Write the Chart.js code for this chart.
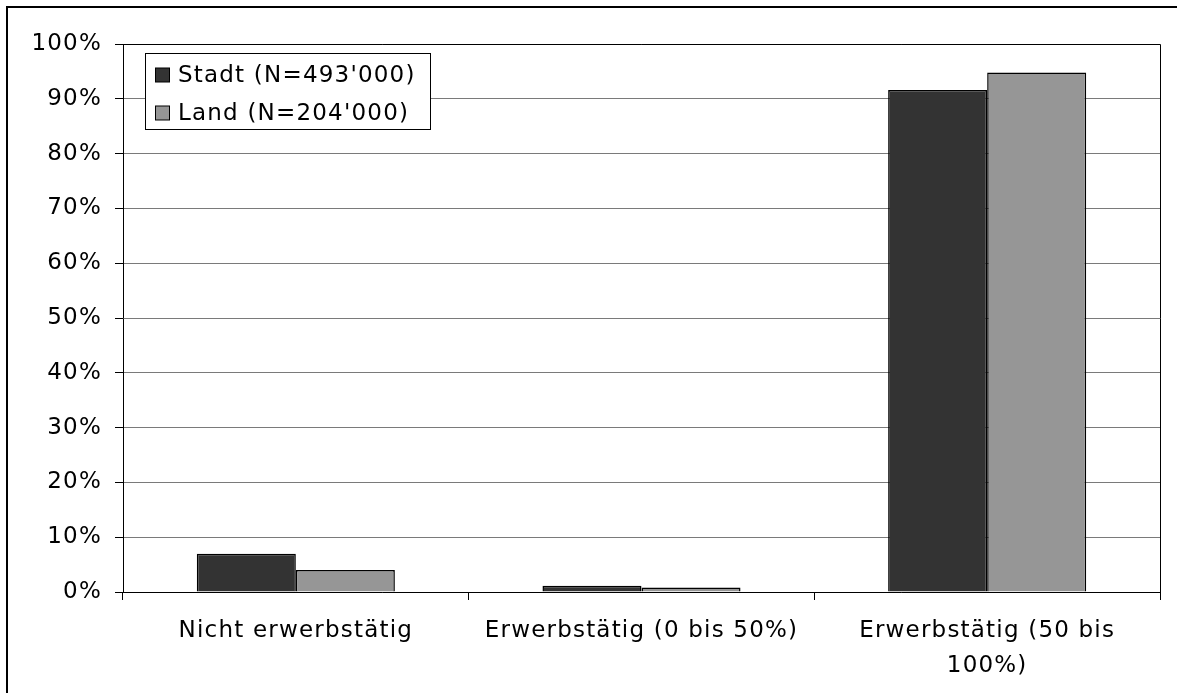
<!DOCTYPE html>
<html>
<head>
<meta charset="utf-8">
<script src="https://cdn.jsdelivr.net/npm/chart.js@4.4.0/dist/chart.umd.min.js"></script>
<style>
  html, body { margin: 0; padding: 0; background: #fff; }
  #wrap { width: 1177px; height: 693px; }
</style>
</head>
<body>
<div id="wrap"><canvas id="chart1" width="1177" height="693"></canvas></div>
<script>
const categories = [
  "Nicht erwerbstätig",
  "Erwerbstätig (0 bis 50%)",
  ["Erwerbstätig (50 bis", "100%)"],
];
const stadtValues = [7.0, 1.15, 91.6];
const landValues = [4.0, 0.8, 94.8];
const seriesLabels = ["Stadt (N=493'000)", "Land (N=204'000)"];
const colors = ["#333333", "#969696"];

const font = { family: "'DejaVu Sans', Verdana, sans-serif", size: 23 };

// frame round the whole picture, border round plot area and the legend box
const framePlugin = {
  id: "frame",
  beforeDraw(chart) {
    const ctx = chart.ctx;
    ctx.letterSpacing = "1.2px";
    ctx.save();
    ctx.fillStyle = "#fff";
    ctx.fillRect(0, 0, chart.width, chart.height);
    ctx.strokeStyle = "#000";
    ctx.lineWidth = 2;
    ctx.strokeRect(7, 7, chart.width + 20, chart.height + 20);
    ctx.restore();
  },
  afterDraw(chart) {
    const ctx = chart.ctx;
    const a = chart.chartArea;
    ctx.save();
    ctx.strokeStyle = "#000";
    ctx.lineWidth = 1;
    ctx.beginPath();
    ctx.moveTo(a.left, a.top + 0.5);
    ctx.lineTo(a.right + 0.5, a.top + 0.5);
    ctx.lineTo(a.right + 0.5, a.bottom);
    ctx.stroke();

    // legend
    const lx = 145.5, ly = 53.5, lw = 285, lh = 76;
    ctx.fillStyle = "#fff";
    ctx.fillRect(lx, ly, lw, lh);
    ctx.strokeRect(lx, ly, lw, lh);
    ctx.font = font.size + "px " + font.family;
    ctx.textBaseline = "middle";
    chart.data.datasets.forEach((ds, i) => {
      const cy = 75 + i * 38;
      ctx.fillStyle = ds.backgroundColor;
      ctx.fillRect(155.5, cy - 7, 14, 14);
      ctx.strokeRect(155.5, cy - 7, 14, 14);
      ctx.fillStyle = "#000";
      ctx.fillText(ds.label, 178, cy + 1);
    });
    ctx.restore();
  },
};

const data1 = {
  labels: categories,
  datasets: [
    {
      label: seriesLabels[0],
      data: stadtValues,
      backgroundColor: colors[0],
      borderColor: "#000",
      borderWidth: 1.5,
    },
    {
      label: seriesLabels[1],
      data: landValues,
      backgroundColor: colors[1],
      borderColor: "#000",
      borderWidth: 1.5,
    },
  ],
};

const config1 = {
  type: "bar",
  data: data1,
  options: {
    responsive: false,
    animation: false,
    layout: { padding: { top: 44, right: 17, left: 0, bottom: 0 } },
    plugins: { legend: { display: false }, tooltip: { enabled: false } },
    datasets: { bar: { barPercentage: 1, categoryPercentage: 0.573 } },
    scales: {
      x: {
        grid: {
          offset: true,
          drawOnChartArea: false,
          color: "#000",
          tickLength: 8,
        },
        border: { color: "#000", width: 1 },
        ticks: {
          color: "#000",
          font: { ...font, lineHeight: 1.55 },
          padding: 13,
          maxRotation: 0,
        },
        afterFit(scale) {
          scale.height = 101;
        },
      },
      y: {
        min: 0,
        max: 100,
        grid: { color: "#7a7a7a", tickLength: 8, tickColor: "#000" },
        border: { color: "#000", width: 1 },
        ticks: {
          stepSize: 10,
          color: "#000",
          font: font,
          padding: 13,
          callback: (v) => v + "%",
        },
        afterFit(scale) {
          scale.width = 123;
        },
      },
    },
  },
  plugins: [framePlugin],
};
const myChart = new Chart(document.getElementById("chart1"), config1);
</script>
</body>
</html>
